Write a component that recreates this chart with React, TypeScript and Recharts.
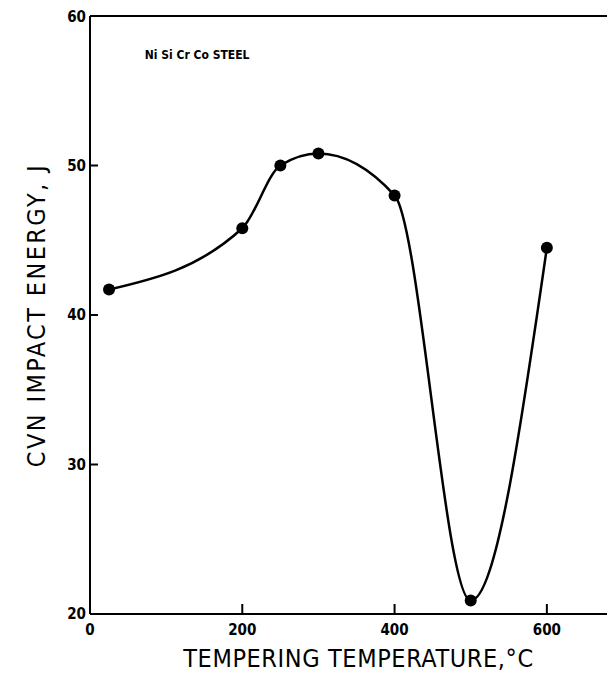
import {
  LineChart,
  Line,
  XAxis,
  YAxis,
  ReferenceLine,
  ReferenceDot,
  Label,
} from "recharts";

const temperatures = [25, 200, 250, 300, 400, 500, 600];
const impactEnergy = [41.7, 45.8, 50.0, 50.8, 48.0, 20.9, 44.5];
const xTicks = [0, 200, 400, 600];
const yTicks = [20, 30, 40, 50, 60];

const data = temperatures.map((t, i) => ({ t, cvn: impactEnergy[i] }));

const font = "'DejaVu Sans Condensed', 'DejaVu Sans', sans-serif";

export default function App() {
  return (
    <div style={{ width: 607, height: 665, overflow: "hidden" }}>
      <LineChart
        width={615}
        height={665}
        data={data}
        margin={{ top: 8, right: 0, left: 0, bottom: 0 }}
      >
        <XAxis
          type="number"
          dataKey="t"
          domain={[0, 700]}
          ticks={xTicks}
          stroke="#000"
          strokeWidth={2}
          tickSize={-10}
          tickMargin={20}
          height={59}
          tick={{ fill: "#000", fontSize: 15, fontWeight: "bold", fontFamily: font }}
        >
          <Label
            value="TEMPERING TEMPERATURE,°C"
            position="insideBottom"
            offset={6}
            dx={2}
            style={{ fill: "#000", fontSize: 25, letterSpacing: 0.6, fontFamily: font }}
          />
        </XAxis>
        <YAxis
          type="number"
          domain={[20, 60]}
          ticks={yTicks}
          width={82}
          stroke="#000"
          strokeWidth={2}
          tickSize={-8}
          tickMargin={12}
          tick={{ fill: "#000", fontSize: 15, fontWeight: "bold", fontFamily: font }}
        >
          <Label
            value="CVN IMPACT ENERGY, J"
            angle={-90}
            position="insideLeft"
            offset={28}
            style={{ fill: "#000", fontSize: 25, letterSpacing: 2.4, fontFamily: font, textAnchor: "middle" }}
          />
        </YAxis>
        <ReferenceLine y={60} stroke="#000" strokeWidth={2} />
        <ReferenceDot x={72} y={57.4} r={0} stroke="none" fill="none">
          <Label
            value="Ni Si Cr Co STEEL"
            position="right"
            offset={0}
            style={{ fill: "#000", fontSize: 12, fontWeight: "bold", fontFamily: font }}
          />
        </ReferenceDot>
        <Line
          type="monotone"
          dataKey="cvn"
          stroke="#000"
          strokeWidth={2.5}
          dot={{ r: 6, fill: "#000", stroke: "#000", strokeWidth: 0 }}
          isAnimationActive={false}
        />
      </LineChart>
    </div>
  );
}
